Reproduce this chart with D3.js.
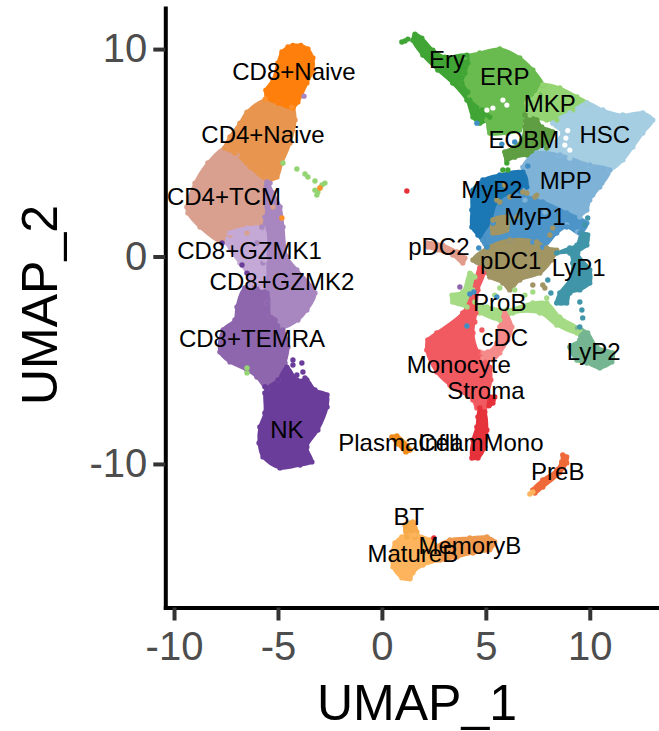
<!DOCTYPE html>
<html>
<head>
<meta charset="utf-8">
<script src="https://cdn.jsdelivr.net/npm/d3@7"></script>
<style>
  html, body { margin: 0; background: #fff; }
  svg { display: block; font-family: "Liberation Sans", Arial, sans-serif; }
</style>
</head>
<body>
<svg id="umap" width="659" height="731"></svg>
<script>
// outlines of the dense clouds in UMAP units
const cd8Naive = [[-4.81,9.86],[-4.52,10.1],[-4.28,10.18],[-3.90,10.18],[-3.56,10.0],[-3.32,9.57],[-3.32,8.99],[-3.61,8.36],[-4.04,7.45],[-4.28,7.16],[-5.0,7.40],[-5.53,7.64],[-5.58,8.02],[-5.24,8.51],[-5.0,9.33]];
const cd4Naive = [[-5.63,7.54],[-5.0,7.40],[-4.28,7.16],[-4.18,6.58],[-4.42,5.47],[-4.81,4.51],[-5.05,3.83],[-5.53,3.69],[-6.35,4.31],[-7.07,4.99],[-7.55,5.23],[-7.31,5.76],[-6.83,6.43],[-6.49,6.96]];
const cd4Tcm = [[-7.55,5.23],[-6.97,4.89],[-6.35,4.31],[-5.53,3.69],[-5.63,3.20],[-5.24,2.39],[-5.77,1.42],[-6.49,1.13],[-7.31,1.04],[-7.69,0.70],[-8.75,1.42],[-9.33,2.10],[-9.38,2.39],[-8.99,3.54],[-8.37,4.51]];
const gzmk2 = [[-5.53,3.59],[-5.24,3.06],[-4.90,2.39],[-4.76,1.42],[-4.57,-0.02],[-4.09,-0.65],[-3.22,-1.76],[-3.61,-2.58],[-4.04,-3.06],[-4.76,-3.40],[-5.38,-2.92],[-5.53,-2.24],[-5.77,-1.47],[-5.72,-0.31],[-6.01,0.65],[-5.72,1.37],[-5.53,2.39],[-5.63,3.20]];
const gzmk1 = [[-7.31,1.13],[-6.49,1.37],[-5.72,1.37],[-5.63,-0.17],[-5.77,-1.47],[-6.35,-1.47],[-6.49,-0.80],[-6.83,-0.31],[-7.45,0.65]];
const temra = [[-6.59,-1.52],[-5.53,-1.76],[-5.38,-2.92],[-4.76,-3.54],[-4.52,-4.36],[-4.66,-5.13],[-5.0,-5.95],[-5.53,-6.34],[-6.01,-5.81],[-6.49,-5.47],[-7.31,-5.08],[-7.79,-4.60],[-7.64,-3.54],[-7.07,-3.06],[-6.97,-2.43]];
const nk = [[-5.53,-6.34],[-5.0,-5.95],[-4.57,-5.33],[-4.09,-5.95],[-3.61,-5.95],[-3.22,-6.43],[-2.64,-6.67],[-2.64,-7.25],[-3.08,-8.36],[-3.61,-9.18],[-3.37,-9.90],[-3.94,-10.05],[-4.90,-10.19],[-5.72,-9.66],[-5.91,-8.99],[-5.87,-8.22],[-5.63,-7.54],[-5.63,-6.58]];
const ery = [[1.59,10.72],[1.92,10.53],[2.45,9.95],[3.03,9.61],[4.09,9.71],[4.13,9.33],[3.99,8.84],[3.85,8.36],[4.13,7.93],[4.23,7.54],[4.81,7.06],[5.19,6.72],[4.71,6.43],[4.38,6.72],[4.09,7.54],[3.41,8.36],[2.69,8.99],[1.97,9.71],[1.49,10.43]];
const erp = [[3.99,9.61],[4.71,9.81],[5.67,10.0],[6.63,9.57],[7.26,8.99],[7.74,8.27],[7.60,7.78],[7.12,7.40],[6.78,6.72],[6.63,6.10],[6.01,5.95],[5.19,5.95],[5.05,6.58],[4.81,7.16],[4.23,7.69],[3.85,8.36],[3.99,8.84]];
const mkp = [[7.74,8.27],[8.56,8.12],[9.38,7.69],[9.86,7.40],[9.18,7.06],[8.41,6.58],[7.93,6.58],[7.12,6.82],[6.97,7.40],[7.45,7.78]];
const eobm = [[6.88,6.82],[7.45,6.58],[7.69,6.24],[8.22,6.0],[7.93,5.23],[7.45,4.99],[6.97,4.89],[6.39,4.79],[6.01,4.65],[5.91,5.04],[6.30,5.23],[6.73,5.61],[6.88,6.24]];
const hsc = [[9.86,7.40],[10.63,7.06],[11.59,6.82],[12.55,6.92],[13.03,6.58],[12.55,5.95],[12.07,5.28],[11.59,4.65],[10.96,4.17],[10.0,4.41],[9.04,4.75],[8.56,4.89],[7.45,4.99],[8.22,5.47],[8.70,5.95],[8.22,6.43],[9.04,6.92]];
const mpp = [[6.78,4.31],[7.45,4.99],[8.56,4.89],[10.0,4.41],[10.96,4.17],[10.48,3.35],[10.0,2.72],[9.86,2.24],[9.52,1.90],[9.42,1.18],[8.89,1.52],[7.84,2.14],[6.88,2.72],[6.88,3.20]];
const myp2 = [[4.86,3.69],[5.67,3.93],[6.78,4.07],[6.97,3.35],[6.49,2.96],[5.67,2.58],[5.34,1.61],[4.86,0.80],[4.62,1.04],[4.33,1.42],[4.33,2.24],[4.38,3.20]];
const myp1 = [[5.67,2.58],[6.49,2.96],[7.74,2.63],[8.89,2.10],[9.86,1.61],[9.52,1.13],[8.89,1.42],[8.41,1.13],[7.74,0.46],[7.26,0.70],[6.15,0.80],[5.05,0.46],[4.86,0.80],[5.34,1.61]];
const pdc1 = [[5.05,0.41],[6.15,0.80],[7.45,0.70],[7.93,0.41],[8.41,0.31],[8.17,-0.17],[7.60,-0.80],[6.63,-1.13],[6.15,-1.61],[5.82,-1.28],[5.19,-0.99],[4.86,-0.51],[4.38,-0.17]];
const pdc1Patch = [[5.34,1.76],[6.01,1.90],[6.01,1.28],[5.34,1.13]];
const pdc2 = [[2.16,0.65],[2.93,0.55],[3.61,0.22],[3.99,-0.07],[3.89,-0.31],[3.41,0.07],[2.64,0.31],[2.21,0.46]];
const lyp1 = [[9.62,1.13],[9.90,1.04],[9.86,0.55],[9.42,0.17],[10.0,-0.65],[10.0,-1.28],[9.52,-1.61],[9.04,-1.76],[8.89,-2.24],[8.41,-2.24],[8.56,-1.76],[9.04,-1.13],[9.18,-0.31],[9.04,0.17],[8.41,0.17],[9.04,0.41],[9.38,0.55]];
const lyp2 = [[9.42,-3.45],[9.90,-3.69],[10.34,-4.36],[11.11,-4.65],[11.06,-5.08],[10.48,-5.37],[9.86,-5.13],[9.38,-4.99],[9.04,-4.36],[9.52,-4.02]];
const proB = [[3.37,-1.86],[3.89,-1.71],[4.23,-0.80],[4.47,-0.99],[4.38,-1.61],[4.47,-2.19],[5.05,-2.43],[6.01,-2.58],[7.26,-2.24],[7.93,-2.24],[8.56,-2.92],[9.52,-3.54],[9.38,-3.69],[8.41,-3.30],[7.60,-2.72],[6.30,-2.72],[5.67,-3.06],[4.71,-2.72],[4.09,-2.43],[3.41,-2.19]];
const monocyte = [[4.71,-0.55],[4.90,-0.80],[4.62,-1.61],[4.52,-2.72],[4.38,-3.69],[4.62,-4.60],[5.19,-5.33],[5.24,-5.95],[5.05,-6.77],[4.95,-7.30],[4.57,-7.30],[4.38,-6.92],[3.27,-6.19],[2.64,-5.57],[2.16,-4.51],[2.21,-4.02],[2.64,-3.69],[3.89,-2.72],[4.33,-1.86]];
const cdc = [[5.91,-2.72],[6.25,-3.40],[6.06,-4.02],[5.67,-4.65],[5.34,-4.99],[4.86,-4.89],[4.71,-4.60],[5.10,-4.60],[5.53,-4.17],[5.67,-3.40]];
const inflamMono = [[4.71,-7.30],[4.95,-7.49],[5.05,-8.36],[4.95,-9.18],[4.62,-9.71],[4.33,-9.71],[4.38,-8.84],[4.57,-8.22],[4.62,-7.73]];
const stroma = [[5.19,-6.77],[5.43,-6.77],[5.34,-7.06],[5.15,-7.20]];
const plasma = [[0.48,-8.70],[0.72,-8.65],[1.35,-9.33],[1.15,-9.42],[0.77,-9.04]];
const preB = [[8.70,-9.57],[8.89,-9.66],[8.89,-9.95],[8.56,-10.43],[7.74,-11.11],[7.36,-11.40],[7.26,-11.25],[7.74,-10.77],[8.41,-10.29],[8.65,-9.90]];
const bt = [[1.11,-12.94],[1.49,-12.79],[1.68,-13.28],[1.59,-13.52],[1.20,-13.52]];
const matureB = [[0.96,-13.52],[1.59,-13.42],[2.31,-13.66],[2.79,-14.14],[2.64,-14.63],[1.97,-14.87],[1.49,-15.25],[1.35,-15.54],[0.96,-15.49],[0.53,-14.96],[0.48,-14.48],[0.63,-13.81]];
const memoryB = [[2.64,-14.0],[3.27,-13.66],[4.23,-13.57],[5.05,-13.52],[5.43,-13.76],[5.19,-14.14],[4.38,-14.29],[3.61,-14.48],[2.79,-14.63],[2.64,-14.29]];

// stray cells outside or across the clouds
const nkDots = [[-4.28,-4.99],[-3.85,-5.13],[-3.80,-5.57],[-4.09,-5.71],[-4.28,-5.23],[-3.70,-5.85],[-6.73,-0.41],[-6.49,-0.80],[-7.69,0.65],[-5.63,-6.28]];
const greenDots = [[-4.76,4.51],[-4.09,4.22],[-3.70,3.98],[-3.56,3.83],[-3.22,3.64],[-2.74,3.54],[-2.88,3.45],[-2.98,3.30],[-3.22,3.20],[-3.13,2.96],[-3.08,3.11],[-6.49,-5.37],[-6.49,-5.61]];
const orangeDots = [[-2.98,3.30],[-4.81,1.86],[-4.33,7.20],[-5.60,7.60]];
const eryDots = [[1.11,10.39],[0.96,10.34],[1.25,10.48],[6.01,4.51],[5.82,4.17],[6.06,4.17]];
const pdc1Dots = [[6.97,3.06],[7.45,2.96],[7.26,-1.37],[7.74,-1.37],[7.84,-1.52],[5.67,2.63],[8.08,1.04],[8.22,1.37],[5.91,3.45],[6.15,2.87],[5.53,2.72],[6.78,3.11],[7.36,2.87],[6.49,1.90]];
const lyp1Dots = [[9.90,1.86],[9.76,1.52],[9.52,-2.19],[9.62,-2.58],[9.66,-2.96],[9.52,-3.40],[7.98,-1.13],[8.13,-1.76]];
const proBDots = [[5.67,-1.52],[6.39,-1.61],[7.26,-1.71],[7.93,-2.0],[5.43,-1.86],[6.88,-1.86]];
const monocyteDots = [[2.69,-3.78],[4.47,-3.16],[4.81,-3.54]];
const redDots = [[1.20,3.16],[2.50,-13.57]];
const preBDots = [[7.12,-11.45],[7.26,-11.35]];
const blueDots = [[4.66,0.41],[5.05,0.46],[4.09,-3.35],[4.23,-1.81],[4.42,-1.71],[5.53,-1.95],[4.57,6.43],[6.39,5.52],[5.77,5.42],[7.02,4.36]];
const purpleDots = [[3.75,-1.47],[-5.87,-1.86],[-5.53,-2.24],[-5.29,-2.96],[-5.14,-3.06]];
const gzmk2Dots = [[-5.63,1.90],[-5.77,1.42],[-5.48,3.30],[-5.38,3.54],[-3.75,7.73]];
const mppDots = [[10.58,3.54],[10.14,2.96]];
const cd4NaiveDots = [[-6.35,5.23]];

// white gaps inside the clouds
const gaps = [[5.82,7.54],[5.34,7.16],[6.01,7.30],[5.05,7.06],[8.94,6.07],[8.85,5.71],[8.80,5.37],[9.04,5.13]];

// cell type labels and where they sit
const labelNames = ["CD8+Naive","CD4+Naive","CD4+TCM","CD8+GZMK1","CD8+GZMK2","CD8+TEMRA","NK","Ery","ERP","MKP","EOBM","HSC","MPP","MyP2","MyP1","pDC1","pDC2","LyP1","LyP2","ProB","cDC","Monocyte","Stroma","PlasmaCell","InflamMono","PreB","BT","MatureB","MemoryB"];
const labelX = [-4.23,-5.72,-7.6,-6.37,-4.81,-6.25,-4.57,3.13,5.91,8.08,6.83,10.72,8.85,5.29,7.36,6.2,2.74,9.47,10.19,5.67,5.91,3.7,5.0,0.82,4.76,8.46,1.3,1.49,4.23];
const labelY = [8.84,5.81,2.82,0.22,-1.28,-4.02,-8.41,9.42,8.60,7.30,5.57,5.81,3.59,3.16,1.86,-0.27,0.41,-0.6,-4.65,-2.29,-3.98,-5.28,-6.53,-9.04,-9.04,-10.43,-12.6,-14.38,-14.0];

const xTicks = [-10,-5,0,5,10];
const yTicks = [-10,0,10];

// clouds in drawing order
const clouds = [
    [cd4Tcm, "#d9a08f"], [cd4Naive, "#e8964f"], [cd8Naive, "#ff7f0e"],
    [gzmk2, "#a887c0"], [gzmk1, "#c4a9d6"], [temra, "#8e66ae"], [nk, "#6a3d9a"],
    [erp, "#6abb50"], [ery, "#3fa535"], [mkp, "#94d472"], [eobm, "#5e9e42"],
    [hsc, "#a6cee3"], [mpp, "#7fb2d7"], [myp2, "#1f78b4"], [myp1, "#4d94c8"],
    [pdc1, "#a09564"], [pdc1Patch, "#a09564"], [pdc2, "#e29c8b"],
    [lyp1, "#3f96a8"], [lyp2, "#74b591"], [proB, "#a6db85"], [cdc, "#f58a8a"],
    [monocyte, "#f15a60"], [inflamMono, "#e6303a"], [stroma, "#e6303a"],
    [plasma, "#f28c1a"], [preB, "#ef6a3a"], [bt, "#f5a94a"], [memoryB, "#ef9a50"], [matureB, "#fdb45c"]
];
const strays = [
    [nkDots, "#6a3d9a"], [greenDots, "#94d472"], [orangeDots, "#ff8f2a"], [eryDots, "#3fa535"],
    [pdc1Dots, "#a09564"], [lyp1Dots, "#3f96a8"], [proBDots, "#a6db85"], [monocyteDots, "#f15a60"],
    [redDots, "#e6303a"], [preBDots, "#fdb45c"], [blueDots, "#3f8fc4"], [purpleDots, "#8e66ae"],
    [gzmk2Dots, "#a887c0"], [mppDots, "#7fb2d7"], [cd4NaiveDots, "#e8964f"]
];

const svg = d3.select("svg#umap");
const width = 659, height = 731;
const left = 165.3, top_ = 8, bottom = 607.5;

const x = d3.scaleLinear().domain([-10.42, 13.33]).range([left, width]);
const y = d3.scaleLinear().domain([-16.92, 11.98]).range([bottom, top_]);

const cloudLine = d3.line()
    .x(d => x(d[0]))
    .y(d => y(d[1]))
    .curve(d3.curveCatmullRomClosed.alpha(0.5));

// soft edge, the points in the picture are slightly blurred
svg.append("defs").append("filter").attr("id", "soft")
    .append("feGaussianBlur").attr("stdDeviation", 0.45);

const marks = svg.append("g").attr("filter", "url(#soft)");

// dense clouds
marks.append("g").selectAll("path")
    .data(clouds)
    .join("path")
    .attr("d", d => cloudLine(d[0]))
    .attr("fill", d => d[1])
    .attr("stroke", d => d[1])
    .attr("stroke-width", 3)
    .attr("stroke-linejoin", "round");

// bumpy edge, one dot per outline vertex
clouds.forEach(([pts, color]) => {
    marks.append("g").selectAll("circle")
        .data(pts)
        .join("circle")
        .attr("cx", d => x(d[0]))
        .attr("cy", d => y(d[1]))
        .attr("r", 2.7)
        .attr("fill", color);
});

marks.append("g").selectAll("circle")
    .data(gaps)
    .join("circle")
    .attr("cx", d => x(d[0]))
    .attr("cy", d => y(d[1]))
    .attr("r", 2.6)
    .attr("fill", "#fff");

// stray cells
strays.forEach(([pts, color]) => {
    marks.append("g").selectAll("circle")
        .data(pts)
        .join("circle")
        .attr("cx", d => x(d[0]))
        .attr("cy", d => y(d[1]))
        .attr("r", 2.7)
        .attr("fill", color);
});

// axes
const xAxis = svg.append("g")
    .attr("transform", `translate(0,${bottom})`)
    .call(d3.axisBottom(x).tickValues(xTicks).tickFormat(d3.format("d")).tickSize(13).tickSizeOuter(0).tickPadding(11));
const yAxis = svg.append("g")
    .attr("transform", `translate(${left},0)`)
    .call(d3.axisLeft(y).tickValues(yTicks).tickFormat(d3.format("d")).tickSize(12).tickSizeOuter(0).tickPadding(6));

[xAxis, yAxis].forEach(axis => {
    axis.select(".domain").attr("stroke", "#000").attr("stroke-width", 4).attr("stroke-linecap", "square");
    axis.selectAll(".tick line").attr("stroke", "#333").attr("stroke-width", 4);
    axis.selectAll(".tick text")
        .attr("fill", "#4d4d4d")
        .style("font-size", "40px")
        .style("font-family", '"Liberation Sans", Arial, sans-serif')
        .text(d => String(d));
});

// axis titles
svg.append("text")
    .attr("x", 417)
    .attr("y", 720.3)
    .attr("text-anchor", "middle")
    .style("font-size", "50px")
    .text("UMAP_1");
svg.append("text")
    .attr("transform", "translate(57,305) rotate(-90)")
    .attr("text-anchor", "middle")
    .style("font-size", "50px")
    .text("UMAP_2");

// cell type labels
svg.append("g").selectAll("text")
    .data(labelNames)
    .join("text")
    .attr("x", (d, i) => x(labelX[i]))
    .attr("y", (d, i) => y(labelY[i]))
    .attr("dy", "0.3em")
    .attr("text-anchor", "middle")
    .style("font-size", "24px")
    .attr("fill", "#000")
    .text(d => d);
</script>
</body>
</html>
